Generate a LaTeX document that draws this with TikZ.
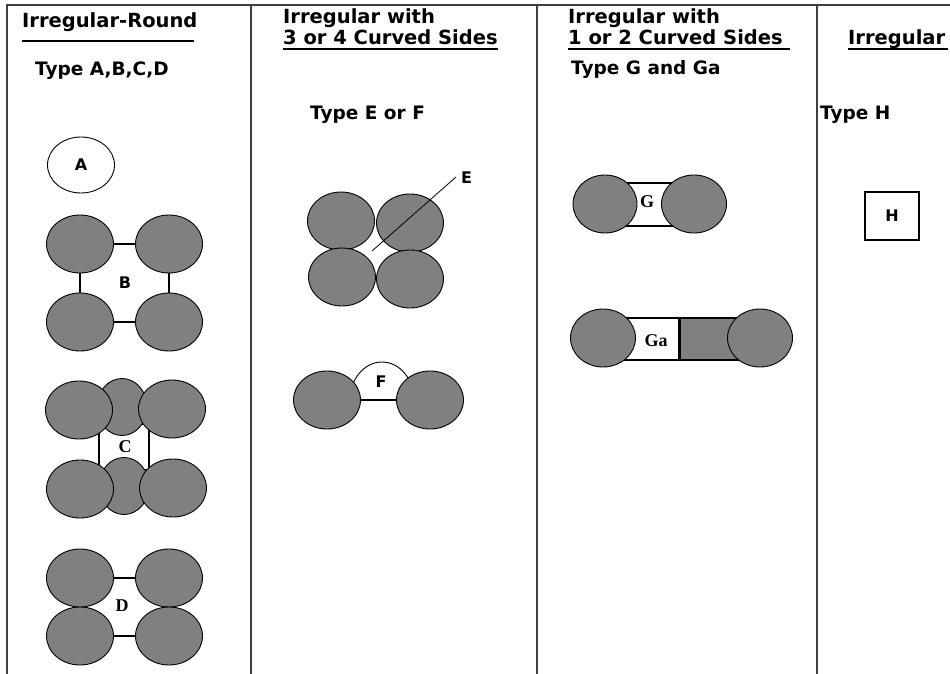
\documentclass[tikz,border=0pt]{standalone}
\usepackage{fontspec}
\setmainfont{DejaVu Sans}
\newfontfamily\serifb{Liberation Serif}
\usetikzlibrary{shapes.geometric}
\definecolor{ballgray}{HTML}{808080}
\definecolor{framegray}{HTML}{404040}
\begin{document}
\begin{tikzpicture}[x=1pt,y=-1pt,
  frameline/.style={draw=framegray,line width=2pt},
  hd/.style={anchor=base west,inner sep=0pt,font=\fontsize{19.5}{22}\selectfont\bfseries},
  ty/.style={anchor=base west,inner sep=0pt,font=\fontsize{18.5}{21}\selectfont\bfseries},
  uline/.style={draw=black,line width=1.6pt},
  ball/.style={ellipse,draw=black,line width=0.9pt,fill=ballgray,minimum width=67pt,minimum height=58pt,inner sep=0pt},
  midball/.style={ball,minimum width=50pt,minimum height=57pt},
  lab/.style={inner sep=0pt,font=\fontsize{16}{18}\selectfont\bfseries},
  slab/.style={inner sep=0pt,font=\fontsize{18}{20}\selectfont\serifb\bfseries},
  bar/.style={draw=black,line width=1.2pt},
  box/.style={rectangle,draw=black,line width=1pt,inner sep=0pt}]
\useasboundingbox (0,0) rectangle (950,674);
\fill[white] (0,0) rectangle (950,674);
% frame
\draw[frameline] (6,5) -- (950,5);
\draw[frameline] (7,4) -- (7,674);
\draw[frameline] (251,4) -- (251,674);
\draw[frameline] (537,4) -- (537,674);
\draw[frameline] (817,4) -- (817,674);
% headings
\node[hd] (h1) at (22,28) {Irregular-Round};
\draw[uline] (22,41) -- (194,41);
\node[ty] (t1) at (35,76) {Type A,B,C,D};
\node[hd] (h2a) at (283,24) {Irregular with};
\node[hd] (h2b) at (283,45) {3 or 4 Curved Sides};
\draw[uline] (283,49) -- (498,49);
\node[ty] (t2) at (310,120) {Type E or F};
\node[hd] (h3a) at (568,24) {Irregular with};
\node[hd] (h3b) at (568,45) {1 or 2 Curved Sides};
\draw[uline] (568,49) -- (790,49);
\node[ty] (t3) at (571,75) {Type G and Ga};
\node[hd] (h4) at (848,45) {Irregular};
\draw[uline] (848,49) -- (948,49);
\node[ty] (t4) at (820,120) {Type H};
% A
\node[ellipse,draw=black,line width=0.9pt,fill=white,minimum width=67pt,minimum height=56pt,inner sep=0pt,font=\fontsize{16}{18}\selectfont\bfseries] (A) at (81,165) {A};
% B
\node[ball] (b1) at (80,244) {};
\node[ball] (b2) at (169,244) {};
\node[ball] (b3) at (80,322) {};
\node[ball] (b4) at (169,322) {};
\draw[bar] (b1) -- (b2);
\draw[bar] (b3) -- (b4);
\draw[bar] (b1) -- (b3);
\draw[bar] (b2) -- (b4);
\node[lab] (B) at (125,283) {B};
% C
\node[box,minimum width=50pt,minimum height=45pt,line width=1.2pt] (cbox) at (124,447) {};
\node[midball] (c2) at (122,407) {};
\node[midball] (c5) at (124,486) {};
\node[ball] (c1) at (79,410) {};
\node[ball] (c3) at (172,409) {};
\node[ball] (c4) at (80,489) {};
\node[ball] (c6) at (173,488) {};
\node[slab] (C) at (125,447) {C};
% D
\node[ball] (d1) at (80,578) {};
\node[ball] (d2) at (169,578) {};
\node[ball] (d3) at (80,636) {};
\node[ball] (d4) at (169,636) {};
\draw[bar] (d1) -- (d2);
\draw[bar] (d3) -- (d4);
\node[slab] (D) at (122,606) {D};
% E
\node[ball] (e1) at (341,221) {};
\node[ball] (e2) at (410,223) {};
\node[ball] (e3) at (342,277) {};
\node[ball] (e4) at (410,279) {};
\coordinate (ea) at (372,251);
\coordinate (eb) at (456,177);
\draw[black,line width=0.8pt] (ea) -- (eb);
\node[lab,anchor=west] (E) at (461,178) {E};
% F
\begin{scope}
\clip (300,340) rectangle (460,401);
\node[ellipse,draw=black,line width=0.9pt,fill=white,minimum width=64pt,minimum height=76pt,inner sep=0pt] (fdome) at (382,400) {};
\end{scope}
\node[ball] (fl) at (327,400) {};
\node[ball] (fr) at (430,400) {};
\draw[black,line width=2.6pt] (fl) -- (fr);
\node[lab] (F) at (381,382) {F};
% G
\node[box,minimum width=60pt,minimum height=43pt,line width=1.2pt] (gbox) at (650,204.5) {};
\node[ball,minimum width=64pt] (gl) at (605,204) {};
\node[ball,minimum width=65pt] (gr) at (694,204) {};
\node[slab] (G) at (647,202) {G};
% Ga
\node[box,fill=white,minimum width=56pt,minimum height=42pt,line width=1.2pt] (gaw) at (651,339) {};
\node[box,fill=ballgray,minimum width=58pt,minimum height=42pt,line width=1.2pt,anchor=west] (gag) at (gaw.east) {};
\node[ball,minimum width=65pt] (gal) at (603,338) {};
\node[ball,minimum width=65pt] (gar) at (760,338) {};
\node[slab] (Ga) at (656,341) {Ga};
% H
\node[box,minimum width=54pt,minimum height=48pt,line width=1.5pt,font=\fontsize{16}{18}\selectfont\bfseries] (H) at (892,216) {H};
\end{tikzpicture}
\end{document}
